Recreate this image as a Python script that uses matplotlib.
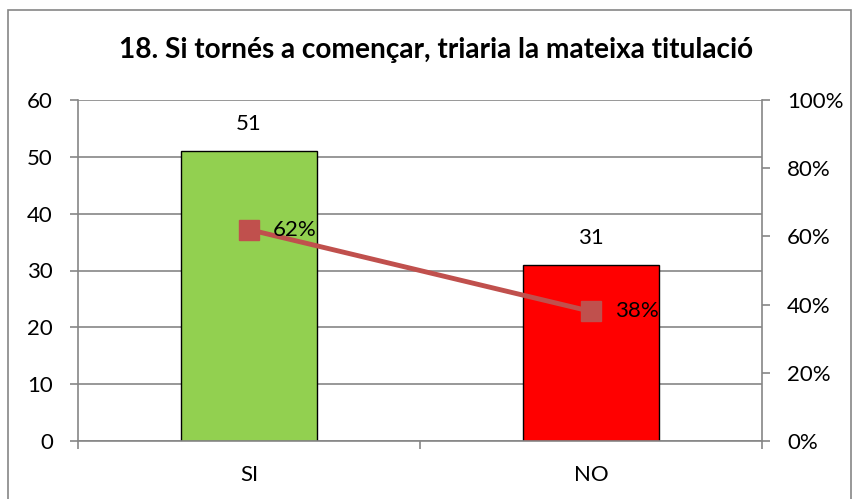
import matplotlib
matplotlib.use("Agg")
import matplotlib.pyplot as plt
from matplotlib.patches import Rectangle
import numpy as np

categories = ["SI", "NO"]
counts = [51, 31]
percents = [0.62, 0.38]
bar_colors = ["#92D050", "#FF0000"]
left_ticks = [0, 10, 20, 30, 40, 50, 60]
right_ticks = [0, 0.2, 0.4, 0.6, 0.8, 1.0]
title = "18. Si tornés a començar, triaria la mateixa titulació"

plt.rcParams['font.family'] = ['Lato', 'DejaVu Sans']
W, H = 853, 499
fig = plt.figure(figsize=(W/100, H/100), dpi=100)

# outer border
fig.patches.append(Rectangle((8/W, -0.1), (851-8)/W, 1.1 - 10/H,
                             transform=fig.transFigure, fill=False,
                             edgecolor="#868686", linewidth=1.2))

ax = fig.add_axes([78/W, (H-441)/H, (762-78)/W, 341/H])
x = np.arange(len(categories))
gray = "#868686"
ax.bar(x, counts, width=0.4, color=bar_colors, edgecolor="black", linewidth=1, zorder=2)
ax.set_xlim(-0.5, 1.5)
ax.set_ylim(0, 60)
ax.set_yticks(left_ticks)
ax.yaxis.grid(True, color=gray, linewidth=1.2, zorder=0)
ax.set_axisbelow(True)
for s in ["top", "right"]:
    ax.spines[s].set_visible(False)
for s in ["left", "bottom"]:
    ax.spines[s].set_color(gray)
    ax.spines[s].set_linewidth(1.2)
ax.tick_params(axis="y", colors=gray, labelcolor="black", labelsize=16, length=6, width=1.2, pad=12, direction="out")
ax.set_xticks([-0.5, 0.5, 1.5], minor=False)
ax.set_xticklabels([])
ax.set_xticks(x, minor=True)
ax.set_xticklabels(categories, minor=True)
ax.tick_params(axis="x", which="major", colors=gray, length=6, width=1.2)
ax.tick_params(axis="x", which="minor", length=0, labelsize=16, pad=17, labelcolor="black")
for xi, c in zip(x, counts):
    ax.text(xi, c + 3, str(c), ha="center", va="bottom", fontsize=16)

ax2 = ax.twinx()
ax2.set_ylim(0, 1)
ax2.set_yticks(right_ticks)
ax2.set_yticklabels([f"{int(round(t*100))}%" for t in right_ticks])
for s in ["top", "left", "bottom"]:
    ax2.spines[s].set_visible(False)
ax2.spines["right"].set_color(gray)
ax2.spines["right"].set_linewidth(1.2)
ax2.tick_params(axis="y", colors=gray, labelcolor="black", labelsize=16, length=6, width=1.2, pad=12)
ax2.plot(x, percents, color="#C0504D", linewidth=3.5, marker="s", markersize=14, zorder=3)
for xi, p in zip(x, percents):
    ax2.text(xi + 0.07, p, f"{int(round(p*100))}%", ha="left", va="center", fontsize=16)

fig.text(436/W, 1 - 50/H, title, ha="center", va="center", fontsize=20.2, fontweight="bold")

fig.savefig("out.png", dpi=100)
